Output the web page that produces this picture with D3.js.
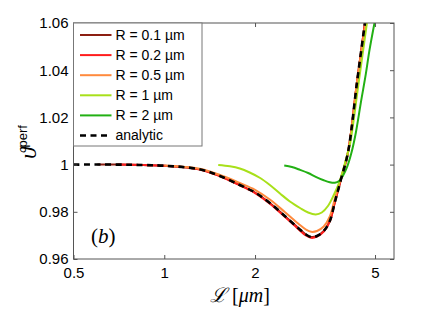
<!DOCTYPE html>
<html>
<head>
<meta charset="utf-8">
<script src="https://cdn.jsdelivr.net/npm/d3@7"></script>
<style>
  body { margin: 0; background: #fff; }
  svg { font-family: "Liberation Sans", Arial, sans-serif; }
</style>
</head>
<body>
<div id="chart"></div>
<script>
// data: [L (um), theta_perf]
const xTicks = [0.5, 1, 2, 5];
const yTicks = [0.96, 0.98, 1, 1.02, 1.04, 1.06];
const yTickLabels = ['0.96', '0.98', '1', '1.02', '1.04', '1.06'];

const analytic = [[0.5,1.0],[0.7,1.0],[0.85,0.9998],[1.0,0.99953],[1.31,0.998],[1.53,0.99517],[1.78,0.99136],[2.0,0.98818],[2.24,0.98373],[2.51,0.97822],[2.78,0.97314],[2.95,0.97038],[3.07,0.96932],[3.21,0.96975],[3.38,0.97186],[3.54,0.9761],[3.68,0.98415],[3.85,0.99347],[4.07,1.00534],[4.36,1.03513],[4.63,1.06]];
const r01 = [[0.6,1.0],[0.7,1.0],[0.85,0.9998],[1.0,0.99953],[1.31,0.998],[1.53,0.99517],[1.78,0.99136],[2.0,0.98818],[2.24,0.98373],[2.51,0.97822],[2.78,0.97314],[2.95,0.97038],[3.07,0.96932],[3.21,0.96975],[3.38,0.97186],[3.54,0.9761],[3.68,0.98415],[3.85,0.99347],[4.07,1.00534],[4.36,1.03513],[4.63,1.06]];
const r02 = [[0.7,1.0],[0.85,0.9998],[1.0,0.9995],[1.31,0.99795],[1.53,0.99505],[1.78,0.9912],[2.0,0.98795],[2.24,0.98345],[2.51,0.97785],[2.78,0.97275],[2.95,0.96995],[3.07,0.96895],[3.21,0.96945],[3.38,0.9716],[3.54,0.9759],[3.68,0.98405],[3.85,0.99345],[4.07,1.00534],[4.36,1.03513],[4.63,1.06]];
const r05 = [[1.0,0.99962],[1.31,0.99822],[1.53,0.99559],[1.78,0.9922],[2.0,0.98932],[2.24,0.98521],[2.51,0.97992],[2.78,0.97504],[2.95,0.9725],[3.07,0.97153],[3.21,0.97186],[3.38,0.97377],[3.54,0.97801],[3.68,0.98564],[3.85,0.99432],[4.07,1.00555],[4.36,1.03542],[4.65,1.06]];
const r1 = [[1.51,0.99983],[1.65,0.99928],[1.78,0.99835],[1.92,0.99665],[2.08,0.99432],[2.24,0.99136],[2.42,0.98775],[2.61,0.98436],[2.82,0.98161],[3.0,0.9797],[3.18,0.97886],[3.33,0.9797],[3.49,0.98246],[3.65,0.98712],[3.83,0.99347],[4.0,1.0019],[4.13,1.00873],[4.42,1.03542],[4.7,1.06]];
const r2 = [[2.5,0.99962],[2.65,0.99898],[2.82,0.99778],[3.0,0.99644],[3.18,0.99483],[3.38,0.99335],[3.54,0.9925],[3.68,0.99229],[3.8,0.99305],[3.91,0.99517],[4.04,0.999],[4.18,1.0052],[4.32,1.0136],[4.5,1.0272],[4.66,1.0383],[4.79,1.0483],[4.98,1.06]];

const seriesNames = ['R = 0.1 µm', 'R = 0.2 µm', 'R = 0.5 µm', 'R = 1 µm', 'R = 2 µm', 'analytic'];
const seriesData = [r01, r02, r05, r1, r2, analytic];
const seriesColors = ['#8c1f12', '#ff1c1c', '#ff8a3d', '#a8e01a', '#22b014', '#000'];

const width = 436, height = 309;
const pLeft = 73.5, pRight = 394, pTop = 23, pBottom = 259;

const svg = d3.select('#chart').append('svg')
  .attr('width', width)
  .attr('height', height);

const x = d3.scaleLog().domain([0.5, 5.78]).range([pLeft, pRight]);
const y = d3.scaleLinear().domain([0.96, 1.06]).range([pBottom, pTop]);

svg.append('clipPath').attr('id', 'plotclip')
  .append('rect')
  .attr('x', pLeft).attr('y', pTop)
  .attr('width', pRight - pLeft).attr('height', pBottom - pTop);

const line = d3.line()
  .x(d => x(d[0]))
  .y(d => y(d[1]))
  .curve(d3.curveCatmullRom.alpha(0.5));

const curves = svg.append('g').attr('clip-path', 'url(#plotclip)');
seriesData.forEach((s, i) => {
  curves.append('path')
    .attr('d', line(s))
    .attr('fill', 'none')
    .attr('stroke', seriesColors[i])
    .attr('stroke-width', i === 5 ? 2.6 : 2)
    .attr('stroke-dasharray', i === 5 ? '6,4.5' : null);
});

// axes, ticks pointing inward (matlab style)
const axisStyle = g => {
  g.select('.domain').remove();
  g.selectAll('.tick line').attr('stroke', '#555');
  g.selectAll('text').attr('fill', '#000').style('font-size', '15px')
    .style('font-family', '"Liberation Sans", Arial, sans-serif');
};

svg.append('g')
  .attr('transform', `translate(0,${pBottom})`)
  .call(d3.axisBottom(x).tickValues(xTicks).tickFormat(d3.format('')).tickSize(-4).tickPadding(8))
  .call(axisStyle);
svg.append('g')
  .attr('transform', `translate(0,${pTop})`)
  .call(d3.axisTop(x).tickValues(xTicks).tickFormat('').tickSize(-4))
  .call(axisStyle);
svg.append('g')
  .attr('transform', `translate(${pLeft},0)`)
  .call(d3.axisLeft(y).tickValues(yTicks).tickFormat((d, i) => yTickLabels[i]).tickSize(-4).tickPadding(5))
  .call(axisStyle);
svg.append('g')
  .attr('transform', `translate(${pRight},0)`)
  .call(d3.axisRight(y).tickValues(yTicks).tickFormat('').tickSize(-4))
  .call(axisStyle);

svg.append('rect')
  .attr('x', pLeft).attr('y', pTop)
  .attr('width', pRight - pLeft).attr('height', pBottom - pTop)
  .attr('fill', 'none')
  .attr('stroke', '#555')
  .attr('stroke-width', 1);

// legend
const legend = svg.append('g');
legend.append('rect')
  .attr('x', pLeft).attr('y', pTop)
  .attr('width', 128.5).attr('height', 123)
  .attr('fill', '#fff')
  .attr('stroke', '#777')
  .attr('stroke-width', 1);
seriesNames.forEach((name, i) => {
  const ry = 35 + i * 20.1;
  legend.append('line')
    .attr('x1', 80).attr('x2', 111.5)
    .attr('y1', ry).attr('y2', ry)
    .attr('stroke', seriesColors[i])
    .attr('stroke-width', i === 5 ? 2.6 : 2)
    .attr('stroke-dasharray', i === 5 ? '6,4.5' : null);
  legend.append('text')
    .attr('x', 115.5).attr('y', ry + 4.8)
    .style('font-size', '14px')
    .text(name);
});

// panel tag and axis titles
svg.append('text')
  .attr('x', 91).attr('y', 243)
  .style('font-family', '"Liberation Serif", "DejaVu Serif", serif')
  .style('font-size', '21px')
  .html('(<tspan font-style="italic">b</tspan>)');

svg.append('text')
  .attr('x', 240).attr('y', 302)
  .attr('text-anchor', 'middle')
  .style('font-family', '"Liberation Serif", "DejaVu Serif", serif')
  .style('font-size', '20px')
  .html('<tspan font-style="italic">ℒ</tspan> [<tspan font-style="italic">μm</tspan>]');

svg.append('text')
  .attr('transform', 'translate(36,142) rotate(-90)')
  .attr('text-anchor', 'middle')
  .style('font-family', '"Liberation Serif", "DejaVu Serif", serif')
  .style('font-size', '23px')
  .html('<tspan font-style="italic">ϑ</tspan><tspan dy="-9" font-size="13px" font-family="Liberation Sans, Arial, sans-serif">perf</tspan>');
</script>
</body>
</html>
